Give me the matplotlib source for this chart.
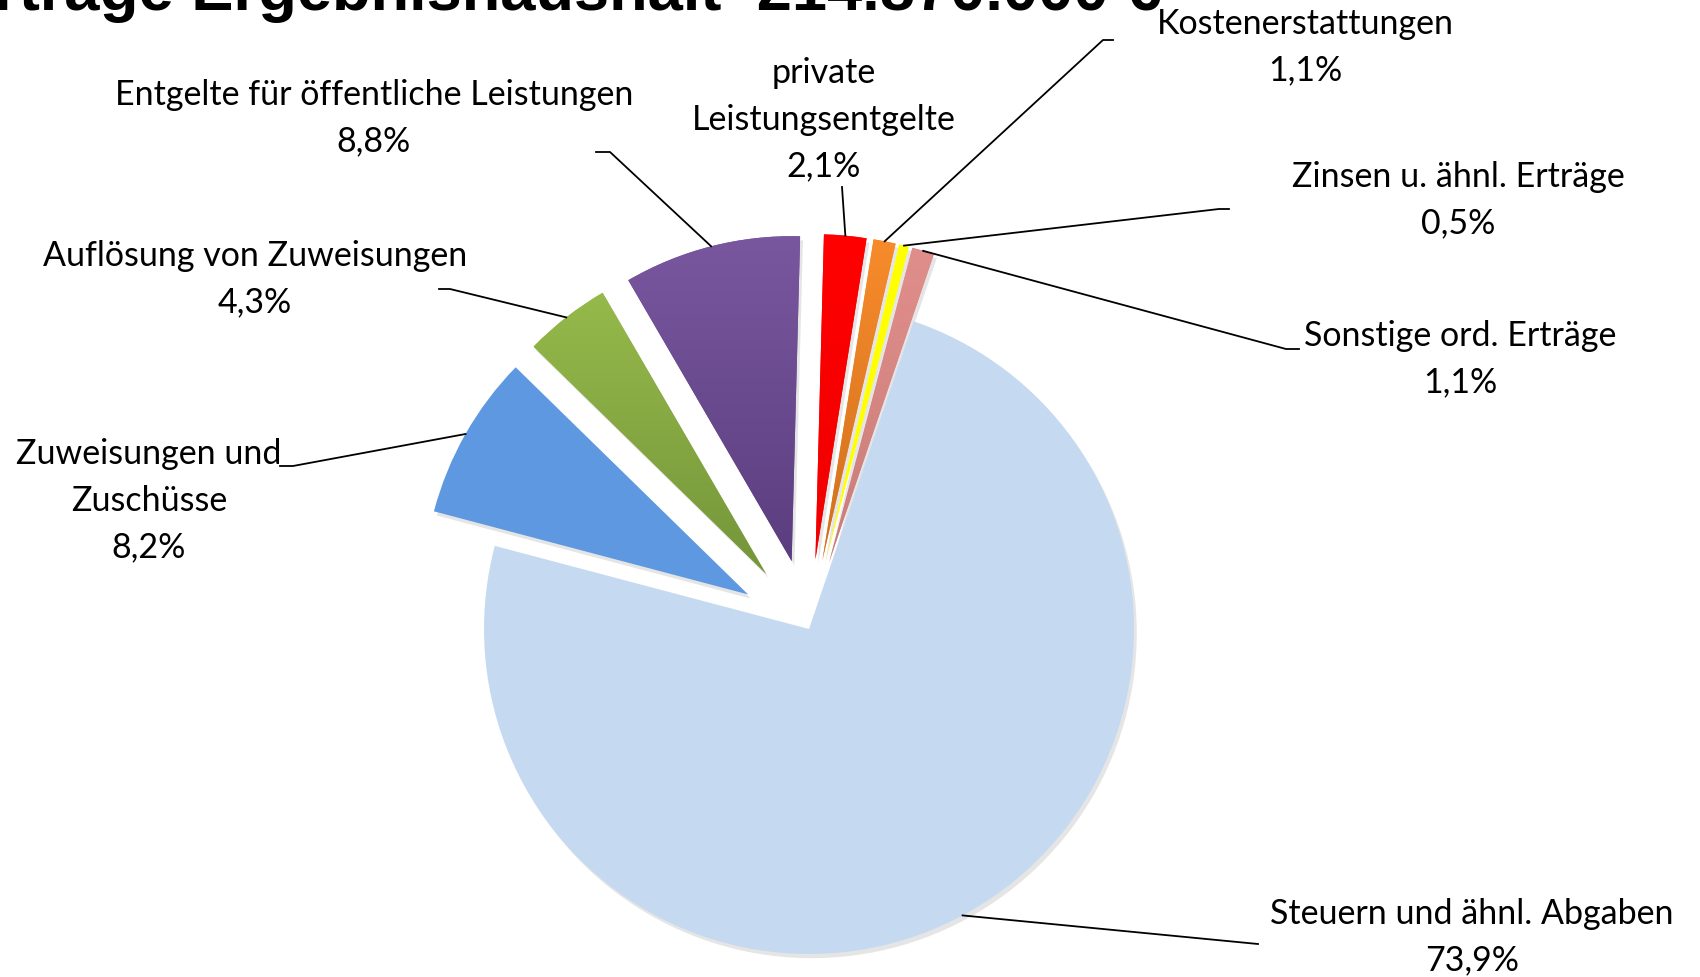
import numpy as np
import matplotlib.pyplot as plt
from matplotlib import patheffects as pe
from matplotlib.colors import to_rgb

plt.rcParams['font.family'] = ['Lato', 'DejaVu Sans']

# data
title = 'Erträge Ergebnishaushalt  214.870.000 €'
names = ['private\nLeistungsentgelte', 'Kostenerstattungen', 'Zinsen u. ähnl. Erträge',
         'Sonstige ord. Erträge', 'Steuern und ähnl. Abgaben', 'Zuweisungen und\nZuschüsse',
         'Auflösung von Zuweisungen', 'Entgelte für öffentliche Leistungen']
shares = [2.1, 1.1, 0.5, 1.1, 73.9, 8.2, 4.3, 8.8]
exploded = [1, 1, 1, 1, 0, 1, 1, 1]
col_top = ['#FF0000', '#F78B2B', '#FFFF00', '#E08E8B', '#C5DAF1', '#5E98E0', '#96B94B', '#79579F']
col_bot = ['#F00000', '#D0701E', '#FFFF00', '#C97D7A', '#C5DAF1', '#5E98E0', '#74963A', '#5B3E7F']

# layout (pixels, y up)
W, H = 1700, 977
cx, cy, R, gap = 809, 348, 325, 70
text_pos = [(824, 857), (1305, 930), (1458, 777), (1460, 618), (1472, 40),
            (149, 476), (255, 698), (374, 859)]
line_end = [(842, 790), (1113, 937), (1229, 768), (1299, 628), (1258, 33),
            (280, 511), (439, 688), (596, 825)]
elbow = [None, (1103, 937), (1219, 768), (1286, 628), None,
         (293, 511), (450, 688), (610, 825)]

fig = plt.figure(figsize=(17, 9.77), dpi=100)
ax = fig.add_axes([0, 0, 1, 1])

wedges, _ = ax.pie(shares, colors=col_top, startangle=88.5, counterclock=False,
                   radius=R, center=(cx, cy), explode=[e * gap for e in exploded],
                   frame=True)

for w, c1, c2 in zip(wedges, col_top, col_bot):
    w.set_path_effects([pe.SimplePatchShadow(offset=(2, -3), shadow_rgbFace='#aaaaaa', alpha=0.3),
                        pe.Normal()])
    if c1 != c2:
        ext = w.get_path().get_extents()
        t = np.linspace(0, 1, 64)[:, None, None]
        grad = np.array(to_rgb(c2))[None, None, :] * (1 - t) + np.array(to_rgb(c1))[None, None, :] * t
        im = ax.imshow(grad, extent=[ext.x0, ext.x1, ext.y0, ext.y1], origin='lower',
                       aspect='auto', zorder=w.get_zorder() + 0.1, interpolation='bilinear')
        im.set_clip_path(w)

for i, w in enumerate(wedges):
    th = np.deg2rad((w.theta1 + w.theta2) / 2)
    ax0 = w.center[0] + w.r * np.cos(th)
    ay0 = w.center[1] + w.r * np.sin(th)
    pts = [(ax0, ay0)]
    if elbow[i] is not None:
        pts.append(elbow[i])
    pts.append(line_end[i])
    xs, ys = zip(*pts)
    ax.plot(xs, ys, color='black', lw=1.3, zorder=5)
    pct = f'{shares[i]:.1f}%'.replace('.', ',')
    ax.text(text_pos[i][0], text_pos[i][1], f'{names[i]}\n{pct}',
            ha='center', va='center', multialignment='center', fontsize=24.5, linespacing=1.56)

ax.text(-48, 967, title, fontsize=45.5, fontweight='bold', family=['Liberation Sans'],
        va='baseline', ha='left')

ax.set_xlim(0, W)
ax.set_ylim(0, H)
ax.set_aspect('equal')
ax.axis('off')

plt.savefig('out.png', dpi=100)
plt.close()
